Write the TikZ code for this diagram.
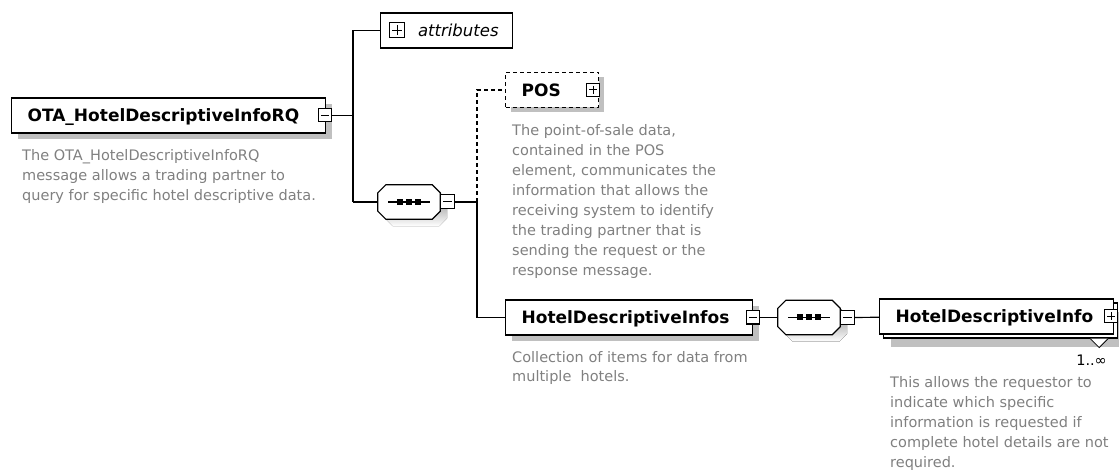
\documentclass[tikz,border=0pt]{standalone}
\usepackage{fontspec}
\setmainfont{DejaVu Sans}
\usetikzlibrary{shadows}
\definecolor{shade}{RGB}{192,192,192}
\definecolor{desctext}{RGB}{128,128,128}
\begin{document}
\begin{tikzpicture}[x=1pt,y=-1pt,
  conn/.style={line width=1.2pt},
  box/.style={draw, fill=white, line width=1.2pt, minimum height=35pt, inner xsep=16pt, inner ysep=0pt,
    align=left, anchor=west, text height=12.4pt, text depth=0pt, font=\bfseries\fontsize{17}{20}\selectfont},
  sh/.style={general shadow={fill=shade, shadow xshift=#1, shadow yshift=-#1}},
  pm/.style={draw, fill=white, line width=1pt, minimum size=13pt, inner sep=0pt, anchor=center},
  minus/.style={pm, path picture={\draw[line width=1pt] ([xshift=2.5pt]path picture bounding box.west) -- ([xshift=-2.5pt]path picture bounding box.east);}},
  plus/.style={pm, path picture={\draw[line width=1pt] ([xshift=2.5pt]path picture bounding box.west) -- ([xshift=-2.5pt]path picture bounding box.east);
      \draw[line width=1pt] ([yshift=-2.5pt]path picture bounding box.north) -- ([yshift=2.5pt]path picture bounding box.south);}},
  seqbox/.style={minimum width=62pt, minimum height=34pt, inner sep=0pt},
  octa/.style={insert path={([xshift=8pt]#1.north west) -- ([xshift=-8pt]#1.north east) -- ([yshift=-8pt]#1.north east)
      -- ([yshift=8pt]#1.south east) -- ([xshift=-8pt]#1.south east) -- ([xshift=8pt]#1.south west)
      -- ([yshift=8pt]#1.south west) -- ([yshift=-8pt]#1.north west) -- cycle}},
  desc/.style={text=desctext, inner sep=0pt, anchor=base west, font=\fontsize{14.5}{20}\selectfont},
  dashline/.style={dash pattern=on 4pt off 3pt}
]
\useasboundingbox (0,0) rectangle (1119,470);
\fill[white] (0,0) rectangle (1119,470);

% root element
\node[box, text width=282pt, sh=6pt] (root) at (11,115.5) {OTA\_HotelDescriptiveInfoRQ};
\node[minus] (rootm) at ([xshift=-1pt]root.east) {};
\node[desc] (rootd) at (22,161) {\vtop{\hbox{The OTA\_HotelDescriptiveInfoRQ}\hbox{message allows a trading partner to}\hbox{query for specific hotel descriptive data.}}};

% trunk 1
\coordinate (j1) at (353,115.5);
\coordinate (j1a) at (353,30.5);
\coordinate (j1b) at (353,202);

% attributes
\node[draw, fill=white, line width=1.2pt, minimum height=35pt, text width=104pt, inner xsep=14pt, inner ysep=0pt,
  align=right, anchor=west, font=\itshape\fontsize{16.5}{20}\selectfont] (attr) at (380,30.5) {attributes};
\node[plus, minimum size=15pt] (attrp) at (397,30.5) {};

% sequence 1
\node[seqbox] (seq1) at (409,202) {};
\fill[shade, transform canvas={shift={(7pt,-7pt)}}, octa=seq1];
\draw[fill=white, line width=1.2pt, octa=seq1];
\draw[line width=1.2pt] ([xshift=-21pt]seq1.center) -- ([xshift=21pt]seq1.center);
\fill ([shift={(-12pt,-3pt)}]seq1.center) rectangle ([shift={(-6pt,3pt)}]seq1.center);
\fill ([shift={(-3pt,-3pt)}]seq1.center) rectangle ([shift={(3pt,3pt)}]seq1.center);
\fill ([shift={(6pt,-3pt)}]seq1.center) rectangle ([shift={(12pt,3pt)}]seq1.center);
\node[minus, minimum size=14pt, anchor=west] (seq1m) at (seq1.east) {};

% trunk 2
\coordinate (j2) at (477,202);
\coordinate (j2a) at (477,90);
\coordinate (j2b) at (477,317.5);

% POS
\node[box, dashline, text width=61pt, sh=5pt] (pos) at (505,90) {POS};
\node[plus] (posp) at ([xshift=-6pt]pos.east) {};
\node[desc] (posd) at (512,136) {\vtop{\hbox{The point-of-sale data,}\hbox{contained in the POS}\hbox{element, communicates the}\hbox{information that allows the}\hbox{receiving system to identify}\hbox{the trading partner that is}\hbox{sending the request or the}\hbox{response message.}}};

% HotelDescriptiveInfos
\node[box, text width=215pt, sh=6pt] (hdis) at (505,317.5) {HotelDescriptiveInfos};
\node[minus] (hdism) at (hdis.east) {};
\node[desc] (hdisd) at (512,362) {\vtop{\hbox{Collection of items for data from}\hbox{multiple\ \ hotels.}}};

% sequence 2
\node[seqbox] (seq2) at (809,317.5) {};
\fill[shade, transform canvas={shift={(7pt,-7pt)}}, octa=seq2];
\draw[fill=white, line width=1.2pt, octa=seq2];
\draw[line width=1.2pt] ([xshift=-21pt]seq2.center) -- ([xshift=21pt]seq2.center);
\fill ([shift={(-12pt,-3pt)}]seq2.center) rectangle ([shift={(-6pt,3pt)}]seq2.center);
\fill ([shift={(-3pt,-3pt)}]seq2.center) rectangle ([shift={(3pt,3pt)}]seq2.center);
\fill ([shift={(6pt,-3pt)}]seq2.center) rectangle ([shift={(12pt,3pt)}]seq2.center);
\node[minus, minimum size=14pt, anchor=west] (seq2m) at (seq2.east) {};

% HotelDescriptiveInfo (multiple)
\node[box, text width=202pt,
  general shadow={fill=shade, shadow xshift=11pt, shadow yshift=-13pt},
  general shadow={fill=white, draw, line width=1.2pt, shadow xshift=4pt, shadow yshift=-4pt}] (hdi) at (879,316.5) {HotelDescriptiveInfo};
\node[plus] (hdip) at ([xshift=-3pt]hdi.east) {};
\draw[line width=0.8pt, fill=white] ([shift={(-24pt,-4pt)}]hdi.south east) -- ([shift={(-15pt,-13pt)}]hdi.south east) -- ([shift={(-6pt,-4pt)}]hdi.south east);
\node[anchor=base east, inner sep=0pt, font=\fontsize{14.5}{20}\selectfont] (mult) at (1107,365) {1..∞};
\node[desc] (hdid) at (890,387) {\vtop{\hbox{This allows the requestor to}\hbox{indicate which specific}\hbox{information is requested if}\hbox{complete hotel details are not}\hbox{required.}}};

% connectors
\draw[conn] (rootm) -- (j1);
\draw[conn] (j1a) -- (j1b);
\draw[conn] (j1a) -- (attr);
\draw[conn] (j1b) -- (seq1);
\draw[conn] (seq1m) -- (j2);
\draw[conn, dashline] (j2) -- (j2a) -- (pos);
\draw[conn] (j2) -- (j2b) -- (hdis);
\draw[conn] (hdism) -- (seq2);
\draw[conn] (seq2m) -- (hdi);
\end{tikzpicture}
\end{document}
